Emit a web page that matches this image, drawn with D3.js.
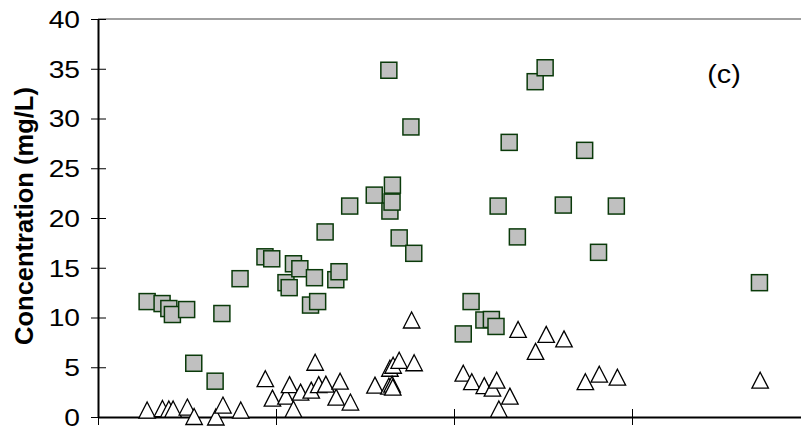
<!DOCTYPE html>
<html>
<head>
<meta charset="utf-8">
<script src="https://cdn.jsdelivr.net/npm/d3@7"></script>
<style>
    body { margin: 0; background: #fff; }
    svg { display: block; font-family: "Liberation Sans", Arial, sans-serif; }
</style>
</head>
<body>
<div id="chart"></div>
<script>
// sample day (no labels on the x axis) and concentration, mg/L
var squareDays = [13.8, 18.0, 19.9, 20.9, 24.9, 26.9, 32.9, 34.8, 39.9, 46.9,
    48.8, 52.8, 53.7, 54.9, 56.7, 59.7, 60.8, 61.7, 63.8, 66.8,
    67.7, 70.7, 77.6, 81.7, 82.0, 82.7, 82.6, 84.6, 87.9, 88.7,
    102.6, 104.8, 108.4, 110.5, 111.8, 112.4, 115.5, 117.8, 122.8, 125.6,
    130.7, 136.7, 140.6, 145.6, 185.8];
var squareValues = [11.6, 11.4, 10.9, 10.3, 10.8, 5.4, 3.6, 10.4, 13.9, 16.1,
    15.9, 13.5, 13.0, 15.4, 14.9, 11.25, 14.0, 11.6, 18.6, 13.8,
    14.6, 21.2, 22.3, 34.85, 20.7, 23.3, 21.6, 18.0, 29.15, 16.45,
    8.35, 11.6, 9.75, 9.8, 9.1, 21.2, 27.6, 18.1, 33.7, 35.1,
    21.3, 26.8, 16.55, 21.2, 13.5];

var triangleDays = [13.8, 18.1, 19.9, 21.1, 25.1, 27.0, 33.1, 35.1, 40.1, 47.0,
    49.0, 52.8, 53.8, 54.9, 56.9, 59.9, 61.0, 62.0, 64.0, 66.9,
    68.0, 70.9, 77.8, 81.7, 82.0, 82.6, 82.8, 82.9, 84.6, 88.1,
    88.8, 102.6, 105.0, 108.5, 110.8, 112.0, 112.6, 115.7, 118.0, 122.9,
    125.9, 130.9, 136.9, 140.8, 145.9, 186.0];
var triangleValues = [0.7, 0.85, 0.8, 0.8, 1.0, 0.05, 0.0, 1.2, 0.7, 3.85,
    1.9, 2.1, 3.25, 0.8, 2.5, 2.7, 5.5, 3.25, 3.3, 2.0,
    3.6, 1.5, 3.2, 3.1, 4.9, 3.3, 3.0, 5.2, 5.7, 9.75,
    5.45, 4.4, 3.55, 3.15, 2.9, 3.7, 0.8, 2.1, 8.8, 6.6,
    8.3, 7.85, 3.55, 4.3, 4.0, 3.7];

var yTicks = [0, 5, 10, 15, 20, 25, 30, 35, 40];
var xTicks = [0, 50, 100, 150, 200];
var panelLabel = "(c)";
var yTitle = "Concentration (mg/L)";

var width = 801, height = 428;
var margin = {top: 19, left: 98, bottom: 11};

var x = d3.scaleLinear().domain([0, 200]).range([margin.left, 810]);
var y = d3.scaleLinear().domain([0, 40]).range([height - margin.bottom, margin.top]);

var svg = d3.select("#chart").append("svg")
    .attr("width", width)
    .attr("height", height);

// plot area border (only the top edge shows)
svg.append("line")
    .attr("x1", x(0)).attr("x2", width)
    .attr("y1", y(40)).attr("y2", y(40))
    .attr("stroke", "#808080")
    .attr("stroke-width", 1.3);

// x axis, ticks cross the line, no labels
var gx = svg.append("g")
    .attr("transform", "translate(0," + y(0) + ")")
    .call(d3.axisBottom(x).tickValues(xTicks).tickSize(8).tickSizeOuter(0).tickFormat(""));
gx.select(".domain").attr("stroke", "#000").attr("stroke-width", 2);
gx.selectAll(".tick line").attr("y1", -8).attr("stroke", "#000");

// y axis; the labels in the original are drawn a bit wide
var stretch = 1.2;
var gy = svg.append("g")
    .attr("transform", "translate(" + x(0) + ",0)")
    .call(d3.axisLeft(y).tickValues(yTicks).tickSize(7).tickPadding(11).tickSizeOuter(0));
gy.select(".domain").attr("stroke", "#000").attr("stroke-width", 2);
gy.selectAll(".tick line").attr("x1", 8).attr("stroke", "#000");
gy.selectAll(".tick text")
    .attr("x", -18 / stretch)
    .attr("dy", "0.36em")
    .attr("transform", "scale(" + stretch + ",1)")
    .attr("font-size", 23.5)
    .attr("font-family", "Liberation Sans, Arial, sans-serif")
    .attr("fill", "#000");

svg.append("text")
    .attr("transform", "translate(33,216) rotate(-90)")
    .attr("text-anchor", "middle")
    .attr("font-size", 25.5)
    .attr("font-weight", "bold")
    .text(yTitle);

svg.append("text")
    .attr("transform", "translate(724,83) scale(1.15,1)")
    .attr("text-anchor", "middle")
    .attr("font-size", 25)
    .text(panelLabel);

// markers
var sq = 16;
svg.append("g").selectAll("rect")
    .data(d3.range(squareDays.length))
    .join("rect")
    .attr("x", function (i) { return x(squareDays[i]) - sq / 2; })
    .attr("y", function (i) { return y(squareValues[i]) - sq / 2; })
    .attr("width", sq).attr("height", sq)
    .attr("fill", "#c0c0c0")
    .attr("stroke", "#0a3a0a")
    .attr("stroke-width", 1.5);

var tw = 16.5, th = 16;
svg.append("g").selectAll("path")
    .data(d3.range(triangleDays.length))
    .join("path")
    .attr("transform", function (i) {
        return "translate(" + x(triangleDays[i]) + "," + y(triangleValues[i]) + ")";
    })
    .attr("d", "M0," + (-th / 2) + "L" + (tw / 2) + "," + (th / 2) + "L" + (-tw / 2) + "," + (th / 2) + "Z")
    .attr("fill", "#fff")
    .attr("stroke", "#000")
    .attr("stroke-width", 1.3)
    .attr("stroke-linejoin", "miter");
</script>
</body>
</html>
